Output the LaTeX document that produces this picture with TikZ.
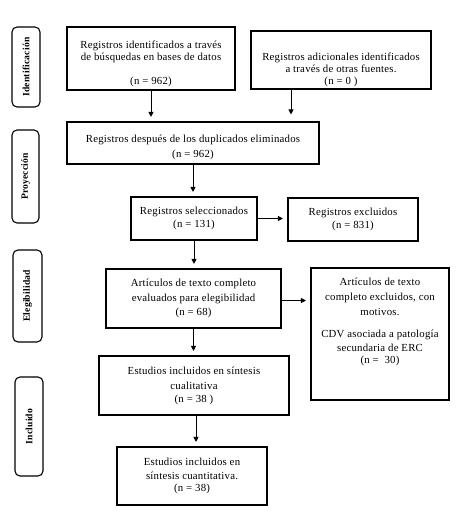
\documentclass[tikz,border=0pt]{standalone}
\usepackage{fontspec}
\setmainfont{Liberation Serif}[LetterSpace=2]
\usetikzlibrary{arrows.meta}
\newcommand\topstrut[1]{\rule{0pt}{#1}}
\begin{document}
\begin{tikzpicture}[x=1pt,y=-1pt,
  box/.style={draw=black, line width=1.1pt, align=center, inner sep=2pt, font=\fontsize{10.8}{12.5}\selectfont},
  lab/.style={draw=black, line width=1.1pt, rounded corners=5pt, rotate=90, font=\fontsize{9.6}{11}\bfseries, inner sep=1pt},
  arr/.style={line width=0.9pt, -{Triangle[length=5pt,width=5pt]}, shorten >=4.5pt}
]
\useasboundingbox (0,0) rectangle (465,518);
% stage labels
\node[lab, minimum width=80pt, minimum height=28pt] (l1) at (26,67) {Identificación};
\node[lab, minimum width=93pt, minimum height=27pt] (l2) at (25.5,176.5) {Proyección};
\node[lab, minimum width=92pt, minimum height=29pt] (l3) at (27.5,296) {Elegibilidad};
\node[lab, minimum width=99pt, minimum height=28pt] (l4) at (29,426.5) {Incluido};
% boxes
\node[box, minimum width=168pt, minimum height=63pt] (b1) at (151,58.5)
  {\topstrut{18pt}Registros identificados a través\\[-0.5pt]de búsquedas en bases de datos\\[12pt](n = 962)};
\node[box, minimum width=180pt, minimum height=58pt] (b2) at (341,60)
  {\topstrut{27pt}Registros adicionales identificados\\[-0.5pt]a través de otras fuentes.\\[-0.5pt](n = 0 )};
\node[box, minimum width=252pt, minimum height=42pt] (b3) at (193,143)
  {\topstrut{17pt}Registros después de los duplicados eliminados\\[2.5pt](n = 962)};
\node[box, minimum width=126pt, minimum height=43pt] (b4) at (194,218.5)
  {Registros seleccionados\\[1pt](n = 131)};
\node[box, minimum width=130pt, minimum height=43pt] (b5) at (353,219.5)
  {Registros excluidos\\[1pt](n = 831)};
\node[box, minimum width=175pt, minimum height=59pt] (b6) at (193.5,298.5)
  {Artículos de texto completo\\[2pt]evaluados para elegibilidad\\[2pt](n = 68)};
\node[box, minimum width=138pt, minimum height=132pt] (b7) at (380,334) {};
\node[align=center, font=\fontsize{10.8}{12.5}\selectfont, anchor=north, inner sep=0pt] (t7) at ([yshift=-10pt]b7.north)
  {Artículos de texto\\[3pt]completo excluidos, con\\[2pt]motivos.\\[10pt]CDV asociada a patología\\[1pt]secundaria de ERC\\(n =\ \ 30)};
\node[box, minimum width=190pt, minimum height=59pt] (b8) at (194,385.5)
  {Estudios incluidos en síntesis\\[2.5pt]cualitativa\\[0.5pt](n = 38 )};
\node[box, minimum width=150pt, minimum height=58pt] (b9) at (192,476)
  {Estudios incluidos en\\[1.5pt]síntesis cuantitativa.\\(n = 38)};
% connectors
\draw[arr] (b1.south) -- (b1.south |- b3.north);
\draw[arr, shorten >=7pt] ([xshift=-50pt]b2.south) -- ([xshift=-50pt]b2.south |- b3.north);
\draw[arr] (b3.south) -- (b3.south |- b4.north);
\draw[arr] (b4.east) -- (b4.east -| b5.west);
\draw[arr] (b4.south) -- (b4.south |- b6.north);
\draw[arr] ([yshift=-2pt]b6.east) -- ([yshift=-2pt]b6.east -| b7.west);
\draw[arr] (b6.south) -- (b6.south |- b8.north);
\draw[arr] ([xshift=2pt]b8.south) -- ([xshift=2pt]b8.south |- b9.north);
\end{tikzpicture}
\end{document}
